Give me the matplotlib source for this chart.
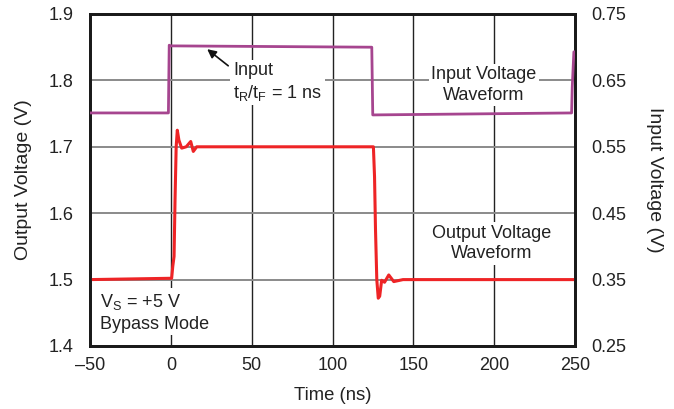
import matplotlib
matplotlib.use("Agg")
import matplotlib.pyplot as plt

plt.rcParams['font.family'] = ['Liberation Sans', 'DejaVu Sans']
plt.rcParams['mathtext.fontset'] = 'custom'
plt.rcParams['mathtext.rm'] = 'Liberation Sans'
plt.rcParams['mathtext.it'] = 'Liberation Sans'

# Output voltage waveform (left axis, V)
t_out = [-50, 0.5, 1.2, 2.0, 2.6, 3.3, 4.0, 5.0, 6.7, 9.5, 12.3, 13.9, 16, 50, 100,
         125.3, 126.0, 126.6, 127.4, 128.3, 129.2, 130.4, 132.2, 134.8, 137.9, 143.6, 250]
v_out = [1.50, 1.502, 1.52, 1.535, 1.62, 1.70, 1.725, 1.71, 1.698, 1.700, 1.708, 1.693, 1.70, 1.70, 1.70,
         1.70, 1.655, 1.575, 1.50, 1.472, 1.475, 1.499, 1.496, 1.507, 1.497, 1.50, 1.50]

# Input voltage waveform (right axis, V)
t_in = [-50, -1.5, -1.0, 0, 124.3, 124.9, 247.9, 248.3, 249.3, 250]
v_in = [0.601, 0.601, 0.703, 0.702, 0.700, 0.598, 0.601, 0.640, 0.693, 0.693]

x_ticks = [-50, 0, 50, 100, 150, 200, 250]
y_left_ticks = [1.4, 1.5, 1.6, 1.7, 1.8, 1.9]
y_right_ticks = [0.25, 0.35, 0.45, 0.55, 0.65, 0.75]

FS = 13
TXT = '#222222'

fig = plt.figure(figsize=(6.74, 4.09), dpi=100)
ax = fig.add_axes([90/674, 1-346/409, (575-90)/674, (346-14)/409])
ax2 = ax.twinx()

ax.set_xlim(-50, 250)
ax.set_ylim(1.4, 1.9)
ax2.set_ylim(0.25, 0.75)
ax.set_xticks(x_ticks)
ax.set_yticks(y_left_ticks)
ax2.set_yticks(y_right_ticks)
ax.set_xticklabels([f"{v:g}".replace('-', '\u2013') for v in x_ticks])
ax.set_yticklabels([f"{v:.1f}" for v in y_left_ticks])
ax2.set_yticklabels([f"{v:.2f}" for v in y_right_ticks])

ax.xaxis.grid(True, color='#222222', lw=1.0)
ax.yaxis.grid(True, color='#8a8a8a', lw=1.4)
ax.set_axisbelow(True)

ax.tick_params(axis='both', length=0, labelsize=FS, colors=TXT)
ax.tick_params(axis='y', pad=12)
ax.tick_params(axis='x', pad=8)
ax2.tick_params(axis='y', length=0, labelsize=FS, pad=12, colors=TXT)

for a in (ax, ax2):
    for s in a.spines.values():
        s.set_linewidth(2.0)
        s.set_color('#1a1a1a')

ax.plot(t_out, v_out, color='#ee2426', lw=2.2, zorder=3)
ax2.plot(t_in, v_in, color='#a6458f', lw=2.0, zorder=3)

ax.set_xlabel('Time (ns)', fontsize=13.3, color=TXT, labelpad=9)
ax.set_ylabel('Output Voltage (V)', fontsize=14, color=TXT, labelpad=12)
ax2.set_ylabel('Input Voltage (V)', fontsize=14, color=TXT, rotation=270, labelpad=26)

bb = dict(facecolor='white', edgecolor='none', pad=2)
ax.text(38.4, 1.797, 'Input\n$\\mathregular{t_R/t_F}$ = 1 ns', fontsize=FS, color=TXT,
        ha='left', va='center', bbox=bb, linespacing=1.25, zorder=4)
ax.annotate('', xy=(22.5, 1.847), xytext=(35.5, 1.822),
            arrowprops=dict(arrowstyle='-|>', color='#111111', lw=1.2, mutation_scale=13,
                            shrinkA=0, shrinkB=0), zorder=5)
ax.text(193.7, 1.793, 'Input Voltage\nWaveform', fontsize=FS, color=TXT,
        ha='center', va='center', bbox=bb, linespacing=1.25, zorder=4)
ax.text(198.4, 1.554, 'Output Voltage\nWaveform', fontsize=FS, color=TXT,
        ha='center', va='center', bbox=bb, linespacing=1.25, zorder=4)
ax.text(-43.8, 1.451, '$\\mathregular{V_S}$ = +5 V\nBypass Mode', fontsize=FS, color=TXT,
        ha='left', va='center', bbox=bb, linespacing=1.3, zorder=4)

fig.savefig('out.png', dpi=100)
